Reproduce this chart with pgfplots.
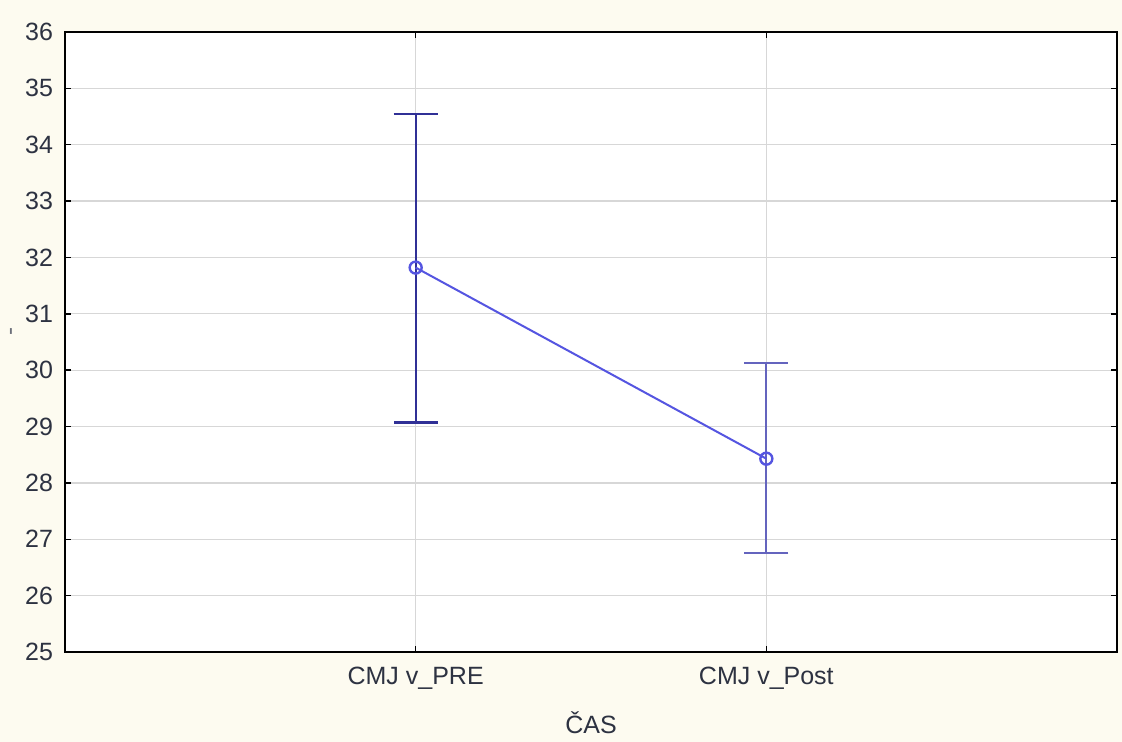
\documentclass[border=0pt]{standalone}
\usepackage{pgfplots}
\pgfplotsset{compat=1.18}
\usepackage{fontspec}
\setmainfont{Liberation Sans}
\definecolor{bgc}{RGB}{253,251,240}
\definecolor{ebA}{RGB}{48,48,150}
\definecolor{ebB}{RGB}{100,100,190}
\definecolor{lnc}{RGB}{85,85,225}
\definecolor{gridc}{RGB}{215,215,215}
\definecolor{txt}{RGB}{45,50,65}
\begin{document}
\begin{tikzpicture}
\fill[bgc] (-32.5pt,-45pt) rectangle (528.5pt,326pt);
\useasboundingbox (-32.5pt,-45pt) rectangle (528.5pt,326pt);
\begin{axis}[
  at={(0pt,0pt)}, anchor=south west,
  scale only axis, width=526pt, height=310pt,
  xmin=0, xmax=3, ymin=25, ymax=36,
  xtick={1,2}, xticklabels={CMJ v\_PRE, CMJ v\_Post},
  ytick={25,26,...,36},
  grid=major, major grid style={gridc, line width=0.6pt},
  axis background/.style={fill=white},
  axis line style={black, line width=0.9pt},
  tick style={black, line width=0.7pt},
  major tick length=3pt,
  tick label style={font=\fontsize{12.5}{14}\selectfont, text=txt},
  xticklabel style={yshift=-4pt},
  yticklabel style={xshift=-2.5pt},
  /pgf/number format/assume math mode=true,
  xlabel={ČAS}, xlabel style={font=\fontsize{12.5}{14}\selectfont, text=txt, yshift=-4pt},
  ylabel={-}, ylabel style={font=\fontsize{12}{14}\selectfont, text=txt!70, yshift=-3pt, xshift=5pt},
]
\addplot[draw=none, mark=none, error bars/.cd, y dir=both, y explicit,
  error bar style={color=ebA, line width=1.1pt},
  error mark options={rotate=90, mark size=11pt, line width=1.1pt, color=ebA}]
  coordinates {(1,31.82) += (0,2.73) -= (0,2.75)};
\addplot[draw=none, mark=none, error bars/.cd, y dir=both, y explicit,
  error bar style={color=ebB, line width=1.1pt},
  error mark options={rotate=90, mark size=11pt, line width=1.1pt, color=ebB}]
  coordinates {(2,28.43) += (0,1.70) -= (0,1.67)};
\addplot[lnc, line width=1pt, mark=o, mark size=3pt, mark options={line width=1.2pt}]
  coordinates {(1,31.82) (2,28.43)};
\end{axis}
\end{tikzpicture}
\end{document}
